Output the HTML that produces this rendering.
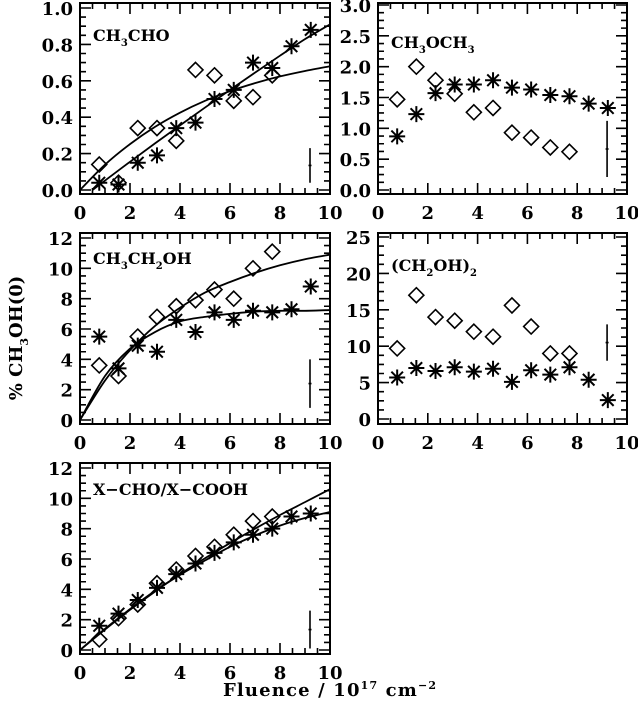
<!DOCTYPE html>
<html><head><meta charset="utf-8"><style>
html,body{margin:0;padding:0;background:#fff;}
svg{display:block;}
text{font-family:"DejaVu Serif","Liberation Serif",serif;font-weight:bold;fill:#000;}
</style></head><body>
<svg id="chart" width="638" height="708" viewBox="0 0 638 708" xmlns="http://www.w3.org/2000/svg">
<text x="223" y="696" font-size="18" textLength="213">Fluence / 10<tspan dy="-7" font-size="11">17</tspan><tspan dy="7"> cm</tspan><tspan dy="-7" font-size="11">−2</tspan></text>
<text transform="translate(22,338) rotate(-90)" text-anchor="middle" font-size="18">% CH<tspan dy="6" font-size="11">3</tspan><tspan dy="-6">OH(0)</tspan></text>
</svg>
<script>
const fluenceX = [0.77,1.54,2.31,3.08,3.85,4.62,5.38,6.15,6.92,7.69,8.46,9.23];
const curveX = [0,1,2,3,4,5,6,7,8,9,10];

const p1Diamonds = [0.14,0.04,0.34,0.34,0.27,0.66,0.63,0.49,0.51,0.63];
const p1Stars = [0.04,0.03,0.15,0.19,0.34,0.37,0.50,0.55,0.70,0.67,0.79,0.88];
const p1CurveA = [0,0.139,0.252,0.347,0.425,0.49,0.543,0.587,0.624,0.654,0.68];
const p1CurveBX = [0.5,1,2,3,4,5,6,7,8,9,10];
const p1CurveB = [0,0.052,0.155,0.256,0.355,0.453,0.55,0.645,0.738,0.829,0.91];
const p1Err = [0.04,0.23];
const p1Ticks = ["0.0","0.2","0.4","0.6","0.8","1.0"];

const p2Diamonds = [1.47,2.0,1.78,1.56,1.26,1.33,0.93,0.85,0.69,0.62];
const p2Stars = [0.87,1.23,1.57,1.71,1.71,1.78,1.66,1.63,1.54,1.52,1.40,1.33];
const p2Err = [0.21,1.12];
const p2Ticks = ["0.0","0.5","1.0","1.5","2.0","2.5","3.0"];

const p3Diamonds = [3.6,2.9,5.5,6.8,7.5,7.9,8.6,8.0,10.0,11.1];
const p3Stars = [5.5,3.4,4.9,4.5,6.6,5.8,7.1,6.6,7.2,7.1,7.3,8.8];
const p3CurveA = [0,2.6,4.6,6.2,7.4,8.4,9.1,9.7,10.2,10.6,10.9];
const p3CurveB = [0,2.9,4.7,5.8,6.5,6.8,7.0,7.15,7.2,7.2,7.25];
const p3Err = [0.8,4.0];
const p3Ticks = ["0","2","4","6","8","10","12"];

const p4Diamonds = [9.7,17.0,14.0,13.5,12.0,11.3,15.6,12.7,9.0,9.0];
const p4Stars = [5.7,7.0,6.6,7.1,6.5,6.9,5.1,6.7,6.1,7.1,5.4,2.6];
const p4Err = [8,13];
const p4Ticks = ["0","5","10","15","20","25"];

const p5Diamonds = [0.7,2.1,3.0,4.4,5.3,6.2,6.8,7.6,8.5,8.8];
const p5Stars = [1.6,2.4,3.3,4.1,5.0,5.7,6.4,7.1,7.6,8.0,8.8,9.0];
const p5CurveA = [0,1.35,2.65,3.85,5.0,6.05,7.05,8.0,8.9,9.75,10.6];
const p5CurveB = [0,1.4,2.7,3.9,4.95,5.9,6.8,7.55,8.2,8.7,9.1];
const p5Err = [0.1,2.6];
const p5Ticks = ["0","2","4","6","8","10","12"];

const xTicks = ["0","2","4","6","8","10"];

const NS="http://www.w3.org/2000/svg";
const svg=document.getElementById('chart');
function mk(tag,attrs,parent){const e=document.createElementNS(NS,tag);for(const k in attrs)e.setAttribute(k,attrs[k]);(parent||svg).appendChild(e);return e;}
function smooth(P){
  let d=`M${P[0][0]},${P[0][1]}`;
  for(let i=0;i<P.length-1;i++){
    const p0=P[Math.max(0,i-1)],p1=P[i],p2=P[i+1],p3=P[Math.min(P.length-1,i+2)];
    const c1x=p1[0]+(p2[0]-p0[0])/6,c1y=p1[1]+(p2[1]-p0[1])/6;
    const c2x=p2[0]-(p3[0]-p1[0])/6,c2y=p2[1]-(p3[1]-p1[1])/6;
    d+=`C${c1x},${c1y} ${c2x},${c2y} ${p2[0]},${p2[1]}`;
  }
  return d;
}
function panel(cfg){
  const g=mk('g',{});
  
  
  const sx=v=>cfg.x0+(cfg.x1-cfg.x0)*v/10;
  const sy=v=>cfg.yz+(cfg.yt-cfg.yz)*v/cfg.ymax;
  const frame=mk('rect',{x:cfg.x0,y:cfg.top,width:cfg.x1-cfg.x0,height:cfg.bot-cfg.top,fill:'none',stroke:'#000','stroke-width':2},g);
  
  
  let d='';
  for(let i=0;i<=20;i++){const v=i*0.5,x=sx(v),L=(i%4==0)?11:6;d+=`M${x},${cfg.bot}v${-L}M${x},${cfg.top}v${L}`;}
  const n=cfg.yticks.length-1,step=cfg.ymax/n;
  for(let i=0;i<=n*4;i++){const v=i*step/4,y=sy(v);if(y<cfg.top-0.5)continue;const L=(i%4==0)?11:6;d+=`M${cfg.x0},${y}h${L}M${cfg.x1},${y}h${-L}`;}
  const tk=mk('path',{d:d,stroke:'#000','stroke-width':1.6,fill:'none'},g);
  
  
  xTicks.forEach((t,i)=>{const e=mk('text',{x:sx(i*2),y:cfg.bot+25,'text-anchor':'middle','font-size':18},g);e.textContent=t;
    
    });
  cfg.yticks.forEach((t,i)=>{const e=mk('text',{x:cfg.x0-7,y:sy(i*step)+7,'text-anchor':'end','font-size':18},g);e.textContent=t;
    
    });
  const lab=mk('text',{x:cfg.x0+13,y:cfg.labY,'font-size':16},g);
  lab.innerHTML=cfg.label;
  
  
  (cfg.curves||[]).forEach(c=>{
    const P=c.y.map((v,i)=>[sx(c.x[i]),sy(v)]);
    const pl=mk('path',{d:smooth(P),fill:'none',stroke:'#000','stroke-width':1.8},g);
    
    
  });
  cfg.diamonds.forEach((v,i)=>{const x=sx(fluenceX[i]),y=sy(v),r=7.5;
    const p=mk('polygon',{points:`${x},${y-r} ${x+r},${y} ${x},${y+r} ${x-r},${y}`,fill:'none',stroke:'#000','stroke-width':1.6},g);
    
    });
  cfg.stars.forEach((v,i)=>{const x=sx(fluenceX[i]),y=sy(v),r=8,q=5.8;
    const p=mk('path',{d:`M${x-r},${y}h${2*r}M${x},${y-r}v${2*r}M${x-q},${y-q}l${2*q},${2*q}M${x-q},${y+q}l${2*q},${-2*q}`,stroke:'#000','stroke-width':2},g);
    
    });
  const ex=sx(9.2);
  const eb=mk('path',{d:`M${ex},${sy(cfg.err[0])}V${sy(cfg.err[1])}M${ex-1.5},${sy((cfg.err[0]+cfg.err[1])/2)}h3`,stroke:'#000','stroke-width':1.6},g);
  
  
}
panel({name:'panel-ch3cho',x0:80,x1:330,top:3,bot:194,yz:190,yt:8,ymax:1.0,yticks:p1Ticks,labY:41,
  label:'CH<tspan dy="5" font-size="10">3</tspan><tspan dy="-5">CHO</tspan>',
  diamonds:p1Diamonds,stars:p1Stars,err:p1Err,
  curves:[{x:curveX,y:p1CurveA},{x:p1CurveBX,y:p1CurveB}]});
panel({name:'panel-ch3och3',x0:378,x1:627,top:3,bot:194,yz:190,yt:5,ymax:3.0,yticks:p2Ticks,labY:48,
  label:'CH<tspan dy="5" font-size="10">3</tspan><tspan dy="-5">OCH</tspan><tspan dy="5" font-size="10">3</tspan>',
  diamonds:p2Diamonds,stars:p2Stars,err:p2Err});
panel({name:'panel-ch3ch2oh',x0:80,x1:330,top:233,bot:424,yz:420,yt:238,ymax:12,yticks:p3Ticks,labY:264,
  label:'CH<tspan dy="5" font-size="10">3</tspan><tspan dy="-5">CH</tspan><tspan dy="5" font-size="10">2</tspan><tspan dy="-5">OH</tspan>',
  diamonds:p3Diamonds,stars:p3Stars,err:p3Err,
  curves:[{x:curveX,y:p3CurveA},{x:curveX,y:p3CurveB}]});
panel({name:'panel-ch2oh2',x0:378,x1:627,top:233,bot:424,yz:419,yt:237,ymax:25,yticks:p4Ticks,labY:271,
  label:'(CH<tspan dy="5" font-size="10">2</tspan><tspan dy="-5">OH)</tspan><tspan dy="5" font-size="10">2</tspan>',
  diamonds:p4Diamonds,stars:p4Stars,err:p4Err});
panel({name:'panel-xcho-xcooh',x0:80,x1:330,top:463,bot:654,yz:650,yt:468,ymax:12,yticks:p5Ticks,labY:495,
  label:'X−CHO/X−COOH',
  diamonds:p5Diamonds,stars:p5Stars,err:p5Err,
  curves:[{x:curveX,y:p5CurveA},{x:curveX,y:p5CurveB}]});
</script>
</body></html>
